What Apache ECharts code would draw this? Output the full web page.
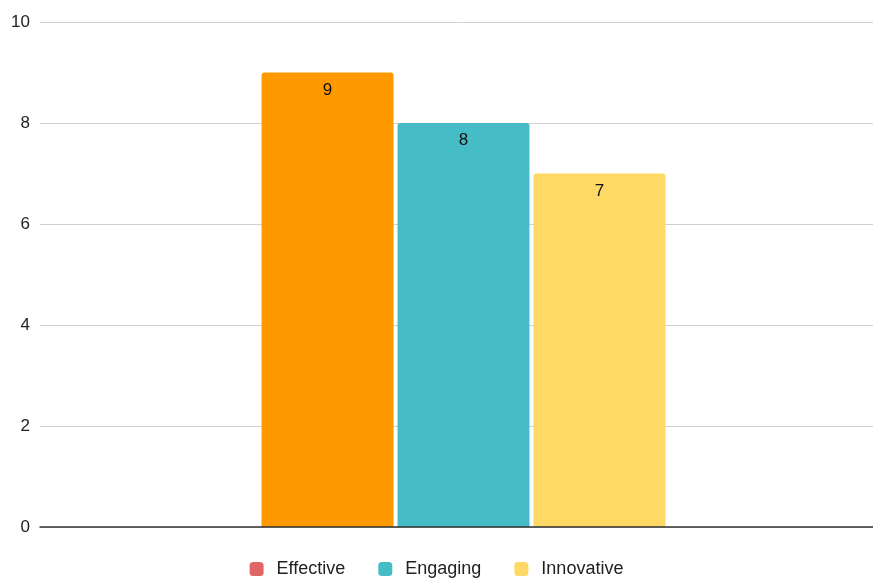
<!DOCTYPE html>
<html>
<head>
<meta charset="utf-8">
<script src="https://cdn.jsdelivr.net/npm/echarts@6/dist/echarts.min.js"></script>
<style>
  html, body { margin: 0; padding: 0; background: #fff; }
  #chart { width: 873px; height: 579px; }
</style>
</head>
<body>
<div id="chart"></div>
<script>
var categories = ['']
var seriesNames = ['Effective', 'Engaging', 'Innovative']
var effective = [9]
var engaging = [8]
var innovative = [7]
var yTicks = [0, 2, 4, 6, 8, 10]

var barColors = ['#ff9900', '#46bdc6', '#ffd966']
// the legend swatch for the first series is red, not the bar colour
var legendColors = ['#e06666', '#46bdc6', '#ffd966']

var font = '"Liberation Sans", Arial, sans-serif'

var chart = echarts.init(document.getElementById('chart'), null, { renderer: 'canvas' })

function barSeries (name, data, color) {
  return {
    name: name,
    type: 'bar',
    xAxisIndex: 1,
    yAxisIndex: 1,
    data: data,
    barWidth: 132,
    barGap: '3%',
    itemStyle: { color: color, borderRadius: [3, 3, 0, 0] },
    label: {
      show: true,
      position: 'insideTop',
      distance: 9,
      color: '#111',
      fontSize: 17,
      fontFamily: font
    }
  }
}

var yRange = { min: yTicks[0], max: yTicks[yTicks.length - 1], interval: 2 }

var option = {
  animation: false,
  backgroundColor: '#fff',
  // grid 0 carries the axis and gridlines, grid 1 the bars (slightly right of centre, as in the source)
  grid: [
    { left: 40, top: 22, right: 0, height: 505 },
    { left: 54, top: 22, right: 0, height: 505 }
  ],
  legend: {
    bottom: -4,
    left: 'center',
    itemWidth: 14,
    itemHeight: 14,
    itemGap: 33,
    icon: 'roundRect',
    textStyle: { color: '#222', fontSize: 18, fontFamily: font, padding: [0, 0, 0, 8] },
    data: seriesNames.map(function (n, i) {
      return { name: n, itemStyle: { color: legendColors[i] } }
    })
  },
  xAxis: [{
    type: 'category',
    gridIndex: 0,
    data: categories,
    axisTick: { show: false },
    axisLabel: { show: false },
    axisLine: { lineStyle: { color: '#333', width: 1.5 } },
    z: 10
  }, {
    type: 'category',
    gridIndex: 1,
    data: categories,
    show: false
  }],
  yAxis: [{
    type: 'value',
    gridIndex: 0,
    min: yRange.min,
    max: yRange.max,
    interval: yRange.interval,
    axisLabel: { color: '#222', fontSize: 17, margin: 10, fontFamily: font },
    axisLine: { show: false },
    axisTick: { show: false },
    splitLine: { lineStyle: { color: '#d0d0d0', width: 1 } }
  }, {
    type: 'value',
    gridIndex: 1,
    min: yRange.min,
    max: yRange.max,
    interval: yRange.interval,
    show: false
  }],
  series: [
    barSeries(seriesNames[0], effective, barColors[0]),
    barSeries(seriesNames[1], engaging, barColors[1]),
    barSeries(seriesNames[2], innovative, barColors[2])
  ]
}

chart.setOption(option)
</script>
</body>
</html>
